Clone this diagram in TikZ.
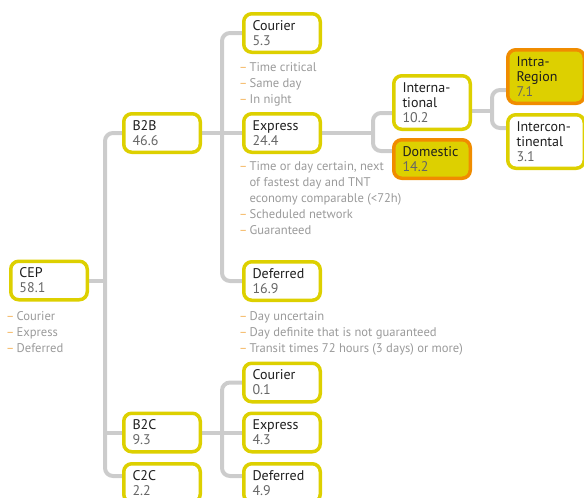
\documentclass[tikz,border=0pt]{standalone}
\usepackage{fontspec}
\setmainfont{PT Sans}
\usetikzlibrary{backgrounds}
\definecolor{boxy}{HTML}{DDD000}
\definecolor{boxo}{HTML}{F08C00}
\definecolor{connc}{HTML}{CCCCCC}
\definecolor{dashc}{HTML}{F4B35A}
\definecolor{descc}{HTML}{9A9A9A}
\definecolor{titc}{HTML}{1E1E1E}
\definecolor{numc}{HTML}{666666}
\newcommand\dsh{{\color{dashc}–}\,}
\newcommand\ind{\hphantom{–}\,}
\newcommand\num[1]{{\color{numc}#1}}
\tikzset{
 box/.style={rectangle, rounded corners=8pt, draw=boxy, line width=3.5pt, fill=white,
   minimum width=76.5pt, minimum height=38.5pt, text width=59pt, inner xsep=8.75pt,
   inner ysep=2pt, align=left, font=\fontsize{14}{15}\selectfont, text=titc},
 tall/.style={minimum height=53.5pt},
 hot/.style={draw=boxo, fill=boxy},
 conn/.style={draw=connc, line width=4pt, rounded corners=8pt},
 desc/.style={anchor=north west, inner sep=0pt, align=left,
   font=\fontsize{12.6}{16}\selectfont, text=descc},
}
\begin{document}
\begin{tikzpicture}[x=1pt,y=-1pt]
\useasboundingbox (0,0) rectangle (584,498);
\clip (0,0) rectangle (584,498);
% boxes
\node[box] (cep) at (49,280.5) {CEP\\\num{58.1}};
\node[box] (b2b) at (162,133) {B2B\\\num{46.6}};
\node[box] (b2c) at (162,432.5) {B2C\\\num{9.3}};
\node[box] (c2c) at (162,483) {C2C\\\num{2.2}};
\node[box] (cour1) at (282,33) {Courier\\\num{5.3}};
\node[box] (exp1) at (282,133) {Express\\\num{24.4}};
\node[box] (def1) at (282,281) {Deferred\\\num{16.9}};
\node[box] (cour2) at (282,382.5) {Courier\\\num{0.1}};
\node[box] (exp2) at (282,432.5) {Express\\\num{4.3}};
\node[box] (def2) at (282,483) {Deferred\\\num{4.9}};
\node[box,tall] (intl) at (432,102.5) {Interna-\\tional\\\num{10.2}};
\node[box,hot] (dom) at (432,159) {Domestic\\\num{14.2}};
\node[box,tall,hot] (intra) at (546,76.5) {Intra-\\Region\\\num{7.1}};
\node[box,tall] (interc) at (546,141.5) {Intercon-\\tinental\\\num{3.1}};
% descriptions
\node[desc] (dcep) at (6,311) {\dsh Courier\\\dsh Express\\\dsh Deferred};
\node[desc] (dcour1) at (239,62) {\dsh Time critical\\\dsh Same day\\\dsh In night};
\node[desc] (dexp1) at (239,161) {\dsh Time or day certain, next\\\ind of fastest day and TNT\\\ind economy comparable (<72h)\\\dsh Scheduled network\\\dsh Guaranteed};
\node[desc] (ddef1) at (239,311) {\dsh Day uncertain\\\dsh Day definite that is not guaranteed\\\dsh Transit times 72 hours (3 days) or more)};
% connector helpers
\coordinate (vT) at (105,0);
\coordinate (vB) at (222,0);
\coordinate (vX) at (373,0);
\coordinate (vY) at (492,0);
\coordinate (c2cin) at ([yshift=7pt]c2c.west);
\coordinate (d2in) at ([yshift=7pt]def2.west);
\coordinate (intin) at ([yshift=-10.5pt]intl.west);
\coordinate (domin) at ([yshift=8pt]dom.west);
\coordinate (intout) at ([yshift=-8pt]intl.east);
\coordinate (intrain) at ([yshift=-13.5pt]intra.west);
\coordinate (intercin) at ([yshift=13.5pt]interc.west);
\begin{scope}[on background layer]
\draw[conn] (b2b.west) -| (vT |- c2cin) -- (c2cin);
\draw[conn] (cep.east) -- (cep.east -| vT);
\draw[conn] (b2c.west) -- (b2c.west -| vT);
\draw[conn] (cour1.west) -| (vB |- def1.west) -- (def1.west);
\draw[conn] (b2b.east) -- (exp1.west);
\draw[conn] (cour2.west) -| (vB |- d2in) -- (d2in);
\draw[conn] (b2c.east) -- (exp2.west);
\draw[conn] (exp1.east) -- (exp1.east -| vX);
\draw[conn] (intin) -| (vX |- domin) -- (domin);
\draw[conn] (intout) -- (intout -| vY);
\draw[conn] (intrain) -| (vY |- intercin) -- (intercin);
\end{scope}
\end{tikzpicture}
\end{document}
